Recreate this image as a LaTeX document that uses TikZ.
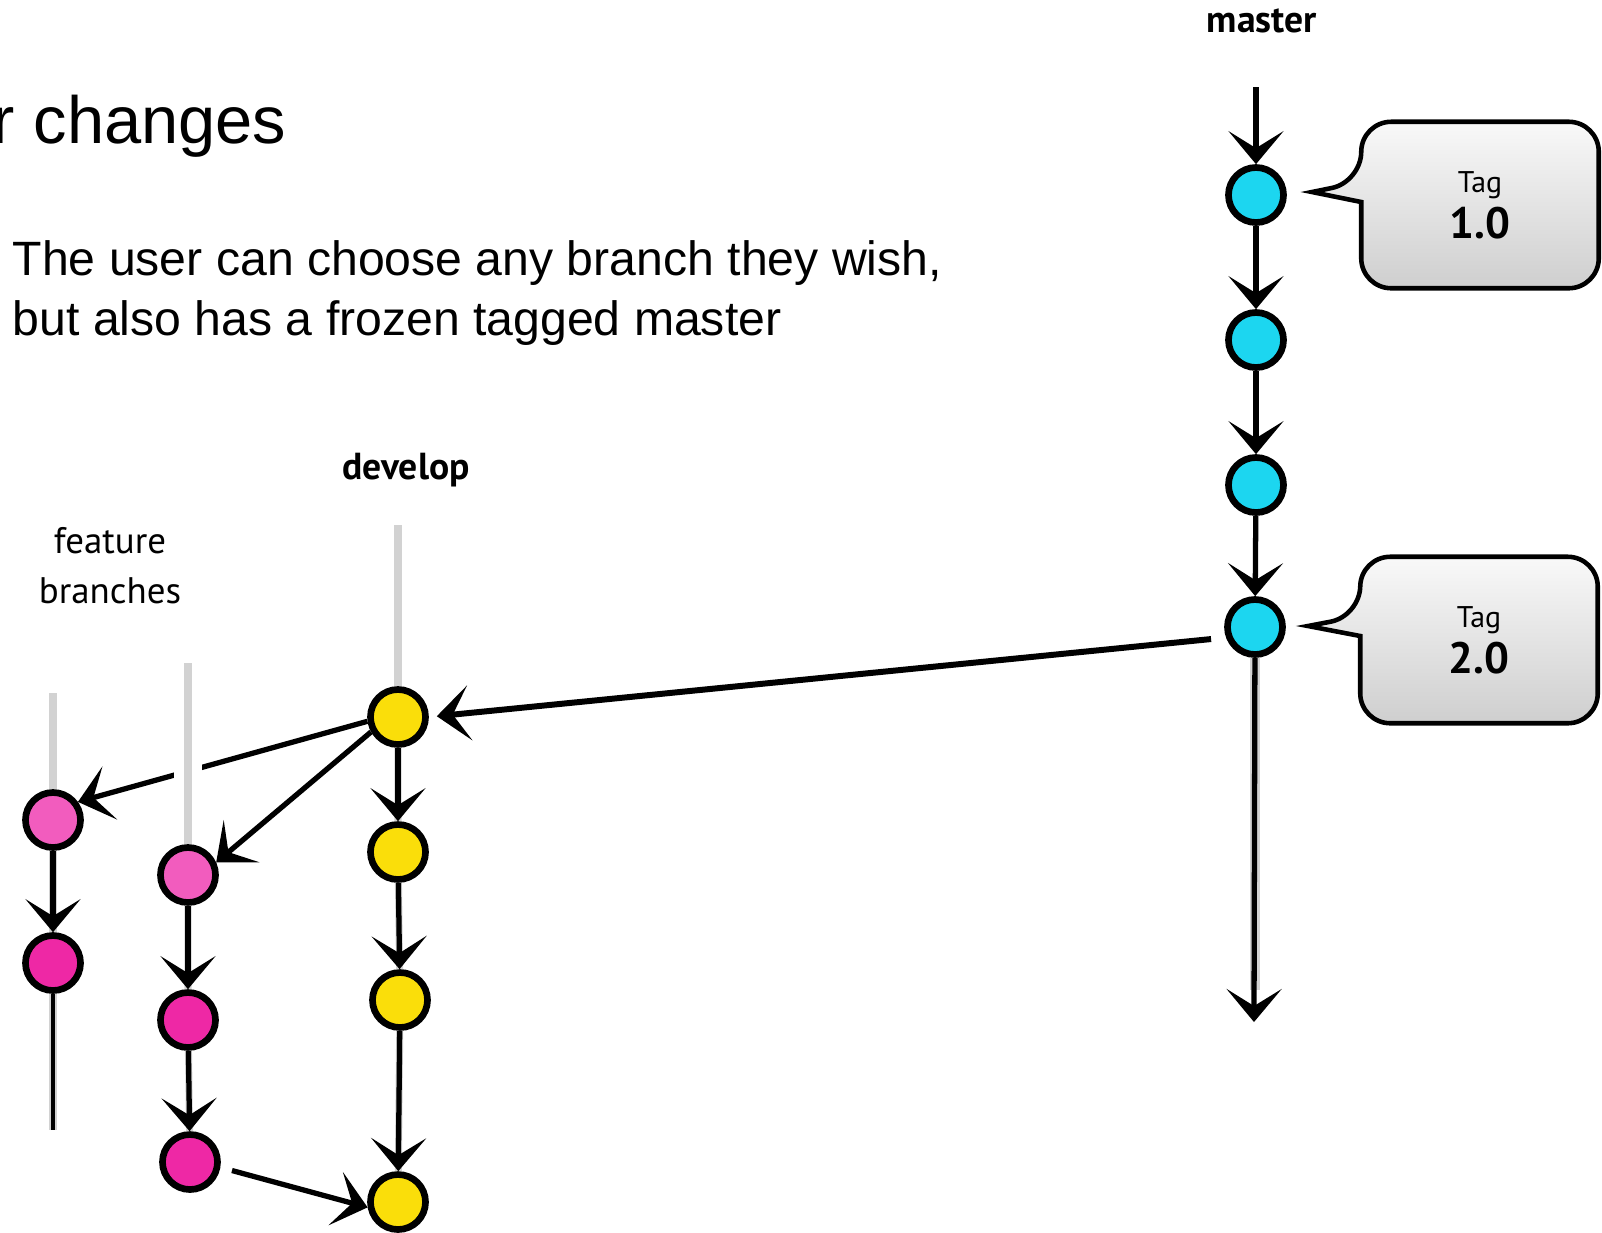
\documentclass[tikz,border=0pt]{standalone}
\usepackage{fontspec}
\setmainfont{Liberation Sans}
\newfontfamily\branchfont{PT Sans}
\usetikzlibrary{arrows.meta,backgrounds,calc}

\definecolor{masterblue}{RGB}{28,214,240}
\definecolor{developyellow}{RGB}{250,222,10}
\definecolor{featurepink}{RGB}{242,92,190}
\definecolor{featuremagenta}{RGB}{238,40,165}

\tikzset{
  commit/.style={circle,draw=black,line width=1.9pt,minimum size=0.55cm,inner sep=0pt},
  mastercommit/.style={commit,fill=masterblue},
  developcommit/.style={commit,fill=developyellow},
  featurecommit/.style={commit,fill=featuremagenta},
  stem/.style={draw=gray!35,line width=2pt},
  trail/.style={draw=black,line width=1pt},
  link/.style={draw=black,line width=1.5pt,-{Stealth[length=0.33cm,width=0.55cm,inset=0.17cm,line width=1.8pt]}},
  branchname/.style={font=\branchfont\bfseries\fontsize{10.7}{13}\selectfont},
  featurename/.style={font=\branchfont\fontsize{10.5}{14.2}\selectfont,align=center},
  tagbox/.style={minimum width=2.36cm,minimum height=1.65cm,inner sep=0pt,align=center,font=\branchfont},
  bubble/.style={draw=black,line width=1.3pt,top color=gray!5,bottom color=gray!38}
}

\begin{document}
\begin{tikzpicture}[x=0.01cm,y=-0.01cm]
  \useasboundingbox (0,0) rectangle (1602,1232);
  \clip (0,0) rectangle (1602,1232);

  % slide text
  \node[anchor=base east,font=\fontsize{19}{23}\selectfont,inner sep=0pt] (title) at (287,143) {r changes};
  \node[anchor=base west,font=\fontsize{13.7}{17}\selectfont,inner sep=0pt] (intro) at (12,275) {The user can choose any branch they wish,};
  \node[anchor=base west,font=\fontsize{13.7}{17}\selectfont,inner sep=0pt] (introtwo) at (12,335) {but also has a frozen tagged master};

  % branch names
  \node[branchname] (mastername) at (1262,21) {master};
  \node[branchname] (developname) at (406,470) {develop};
  \node[featurename] (featurename) at (110,566) {feature\\branches};

  % commits
  \node[mastercommit] (m1) at (1256,195) {};
  \node[mastercommit] (m2) at (1256,340) {};
  \node[mastercommit] (m3) at (1256,485) {};
  \node[mastercommit] (m4) at (1255,627) {};

  \node[developcommit] (d1) at (398,717) {};
  \node[developcommit] (d2) at (398,852) {};
  \node[developcommit] (d3) at (400,1000) {};
  \node[developcommit] (d4) at (398,1202) {};

  \node[featurecommit,fill=featurepink] (f1a) at (53,820) {};
  \node[featurecommit] (f1b) at (53,963) {};

  \node[featurecommit,fill=featurepink] (f2a) at (188,875) {};
  \node[featurecommit] (f2b) at (188,1020) {};
  \node[featurecommit] (f2c) at (190,1162) {};

  % loose ends
  \coordinate (mtop) at (1256,87);
  \coordinate (mend) at (1254,1022);
  \coordinate (dtop) at (398,525);
  \coordinate (f1top) at (53,693);
  \coordinate (f1end) at (53,1130);
  \coordinate (f2top) at (188,663);

  % grey branch lines
  \draw[stem] (dtop) -- (d1);
  \draw[stem] (d1) -- (d2) (d2) -- (d3) (d3) -- (d4);
  \draw[stem] (f1top) -- (f1a);
  \draw[stem] (f1a) -- (f1b) (f1b) -- (f1end);
  \draw[stem] (f2a) -- (f2b) (f2b) -- (f2c);
  \draw[stem,line width=2.6pt] (m4) -- (1255,990);

  % commit arrows
  \draw[link] (mtop) -- (m1);
  \draw[link] (m1) -- (m2);
  \draw[link] (m2) -- (m3);
  \draw[link] (m3) -- (m4);
  \draw[link] (m4) -- (mend);

  \draw[link] (d1) -- (d2);
  \draw[link] (d2) -- (d3);
  \draw[link] (d3) -- (d4);

  \draw[link] (f1a) -- (f1b);
  \draw[trail] (f1b) -- (f1end);
  \draw[link] (f2a) -- (f2b);
  \draw[link] (f2b) -- (f2c);

  % merges between branches
  \draw[link,line width=1.7pt,shorten <=0.15cm,shorten >=0.08cm] (m4.200) -- (d1.east);
  \draw[link] (d1.188) -- (f1a.36);
  \draw[link] (d1.209) -- (f2a.24);
  \draw[link,shorten <=0.12cm] (f2c.-10) -- (d4.190);

  % second feature line crosses over the first merge
  \draw[stem,preaction={draw=white,line width=0.28cm}] (f2top) -- (f2a);

  % tags on master
  \node[tagbox] (tag1) at (1480,205) {{\fontsize{8.5}{10}\selectfont Tag}\\[1pt]{\bfseries\fontsize{12.5}{14}\selectfont 1.0}};
  \node[tagbox] (tag2) at (1479,640) {{\fontsize{8.5}{10}\selectfont Tag}\\[1pt]{\bfseries\fontsize{12.5}{14}\selectfont 2.0}};
  \coordinate (tip1) at (1312,192);
  \coordinate (tip2) at (1308,626);

  \begin{scope}[on background layer]
    \draw[bubble] (tip1) -- ($(tip1 -| tag1.west)+(0,10)$) [rounded corners=0.3cm] -- (tag1.south west) -- (tag1.south east)
      -- (tag1.north east) -- (tag1.north west) -- ($(tip1 -| tag1.west)+(0,-10)$) [sharp corners] -- cycle;
    \draw[bubble] (tip2) -- ($(tip2 -| tag2.west)+(0,10)$) [rounded corners=0.3cm] -- (tag2.south west) -- (tag2.south east)
      -- (tag2.north east) -- (tag2.north west) -- ($(tip2 -| tag2.west)+(0,-10)$) [sharp corners] -- cycle;
  \end{scope}
\end{tikzpicture}
\end{document}
